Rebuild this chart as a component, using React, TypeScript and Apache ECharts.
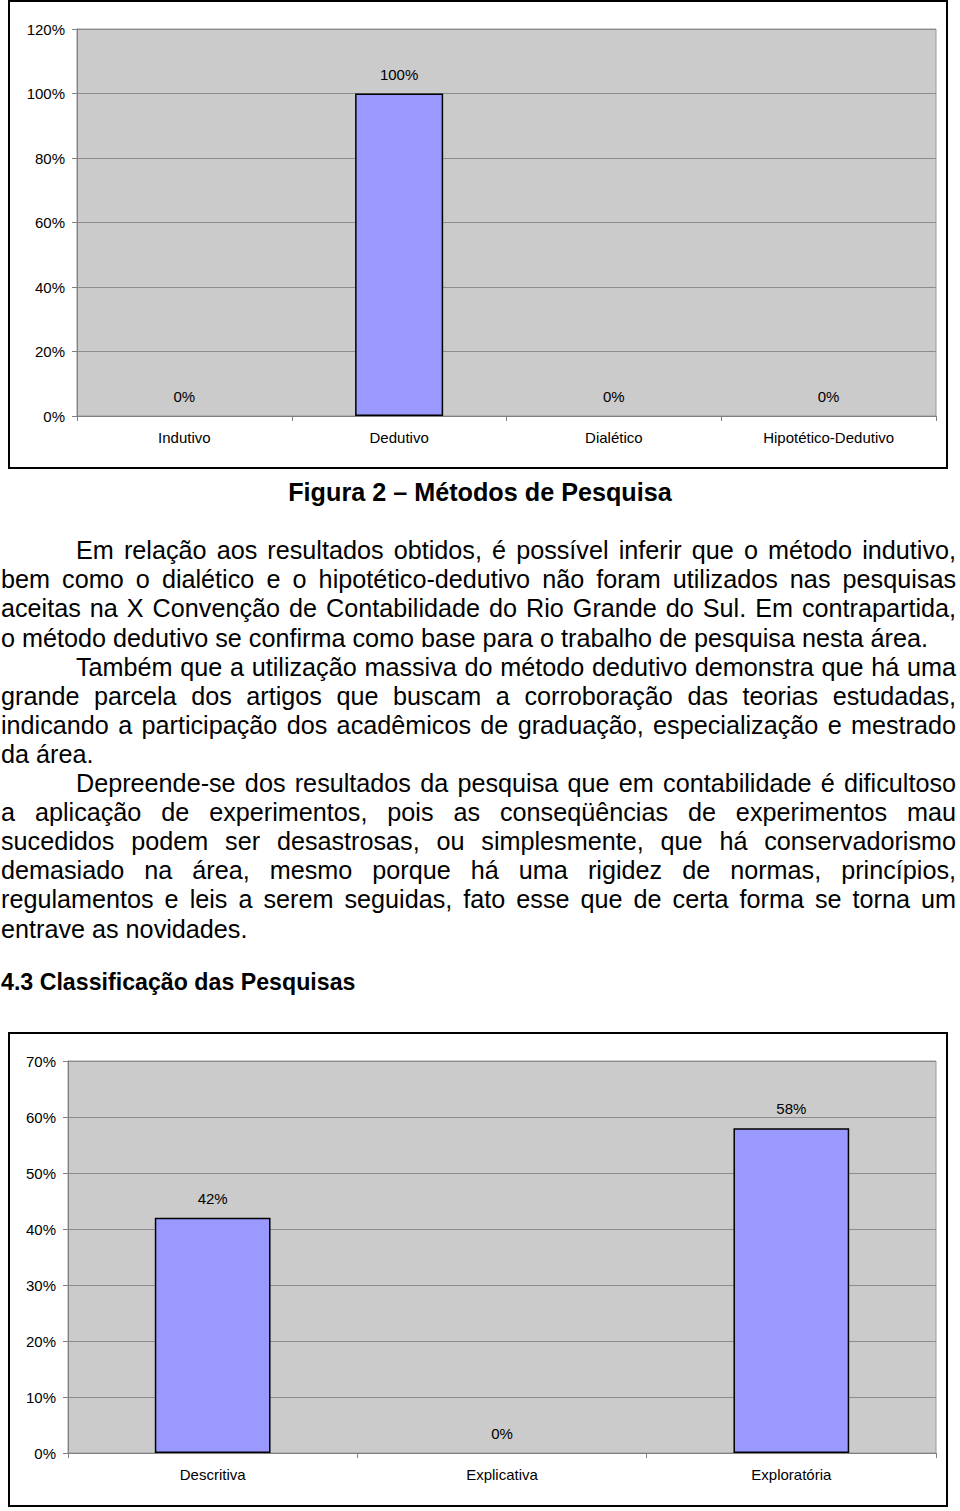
import React, { useEffect, useRef } from "react";
import * as echarts from "echarts";

// ---------- data ----------
const methodCategories = ["Indutivo", "Dedutivo", "Dialético", "Hipotético-Dedutivo"];
const methodValues = [0, 100, 0, 0];
const methodAxis = { min: 0, max: 120, interval: 20 };

const classCategories = ["Descritiva", "Explicativa", "Exploratória"];
const classValues = [42, 0, 58];
const classAxis = { min: 0, max: 70, interval: 10 };

const titleText = "Figura 2 – Métodos de Pesquisa";
const headingText = "4.3 Classificação das Pesquisas";
const paragraph1 = [
  "Em relação aos resultados obtidos, é possível inferir que o método indutivo,",
  "bem como o dialético e o hipotético-dedutivo não foram utilizados nas pesquisas",
  "aceitas na X Convenção de Contabilidade do Rio Grande do Sul. Em contrapartida,",
  "o método dedutivo se confirma como base para o trabalho de pesquisa nesta área.",
];
const paragraph2 = [
  "Também que a utilização massiva do método dedutivo demonstra que há uma",
  "grande parcela dos artigos que buscam a corroboração das teorias estudadas,",
  "indicando a participação dos acadêmicos de graduação, especialização e mestrado",
  "da área.",
];
const paragraph3 = [
  "Depreende-se dos resultados da pesquisa que em contabilidade é dificultoso",
  "a aplicação de experimentos, pois as conseqüências de experimentos mau",
  "sucedidos podem ser desastrosas, ou simplesmente, que há conservadorismo",
  "demasiado na área, mesmo porque há uma rigidez de normas, princípios,",
  "regulamentos e leis a serem seguidas, fato esse que de certa forma se torna um",
  "entrave as novidades.",
];

// ---------- style ----------
const FONT = '"Liberation Sans", Arial, Helvetica, sans-serif';
const AXIS_COLOR = "#808080";
const GRID_COLOR = "#8c8c8c";
const PLOT_BG = "#CBCBCB";
const BAR_COLOR = "#9999FF";

const FS = 25.2;
const LH = 29.1;
const FIRST_BASELINE = 559.5;
const TEXT_LEFT = 1;
const TEXT_RIGHT = 956;
const INDENT_LEFT = 76;

function baselineToTop(baseline: number, fs: number, lh: number) {
  return baseline - (lh - fs * 1.117) / 2 - fs * 0.905;
}

function barData(values: number[]) {
  return values.map((v) => (v === 0 ? { value: v, itemStyle: { borderWidth: 0 } } : { value: v }));
}

function axisX(gridIndex: number, data: string[]) {
  return {
    type: "category",
    gridIndex,
    data,
    axisLine: { show: true, lineStyle: { color: AXIS_COLOR, width: 1 } },
    axisTick: { show: true, length: 5, lineStyle: { color: AXIS_COLOR } },
    axisLabel: { color: "#000", fontSize: 15, fontFamily: FONT, margin: 14, interval: 0 },
  };
}

function axisY(gridIndex: number, cfg: { min: number; max: number; interval: number }) {
  return {
    type: "value",
    gridIndex,
    min: cfg.min,
    max: cfg.max,
    interval: cfg.interval,
    axisLine: { show: true, lineStyle: { color: AXIS_COLOR, width: 1 } },
    axisTick: { show: true, length: 5, lineStyle: { color: AXIS_COLOR } },
    axisLabel: { formatter: "{value}%", color: "#000", fontSize: 15, fontFamily: FONT, margin: 12 },
    splitLine: { show: true, lineStyle: { color: GRID_COLOR, width: 1 } },
  };
}

function barSeries(idx: number, values: number[], width: string) {
  return {
    type: "bar",
    xAxisIndex: idx,
    yAxisIndex: idx,
    data: barData(values),
    barWidth: width,
    itemStyle: { color: BAR_COLOR, borderColor: "#000", borderWidth: 1.5 },
    label: {
      show: true,
      position: "top",
      distance: 12,
      formatter: (p: any) => p.value + "%",
      color: "#000",
      fontSize: 15,
      fontFamily: FONT,
    },
  };
}

function TextLine(props: {
  text: string;
  baseline: number;
  left: number;
  right: number;
  justify: boolean;
}) {
  const { text, baseline, left, right, justify } = props;
  return (
    <div
      style={{
        position: "absolute",
        left,
        width: right - left,
        top: baselineToTop(baseline, FS, LH),
        height: LH,
        lineHeight: LH + "px",
        fontSize: FS,
        fontFamily: FONT,
        color: "#000",
        textAlign: justify ? "justify" : "left",
        textAlignLast: justify ? "justify" : "left",
        whiteSpace: "nowrap",
      } as React.CSSProperties}
    >
      {text}
    </div>
  );
}

export default function App() {
  const ref = useRef<HTMLDivElement>(null);

  useEffect(() => {
    if (!ref.current) return;
    const chart = echarts.init(ref.current, undefined, { renderer: "svg" });
    chart.setOption({
      animation: false,
      backgroundColor: "#ffffff",
      textStyle: { fontFamily: FONT },
      grid: [
        {
          left: 77,
          top: 29,
          right: 24,
          bottom: 1511 - 416,
          show: true,
          backgroundColor: PLOT_BG,
          borderColor: "#999999",
          borderWidth: 1,
        },
        {
          left: 68,
          top: 1061,
          right: 24,
          bottom: 1511 - 1453,
          show: true,
          backgroundColor: PLOT_BG,
          borderColor: "#999999",
          borderWidth: 1,
        },
      ],
      xAxis: [axisX(0, methodCategories), axisX(1, classCategories)],
      yAxis: [axisY(0, methodAxis), axisY(1, classAxis)],
      series: [barSeries(0, methodValues, "41%"), barSeries(1, classValues, "40%")],
      graphic: [
        {
          type: "rect",
          z: 100,
          shape: { x: 9, y: 1, width: 938, height: 467 },
          style: { fill: "transparent", stroke: "#000", lineWidth: 2 },
        },
        {
          type: "rect",
          z: 100,
          shape: { x: 9, y: 1033, width: 938, height: 473 },
          style: { fill: "transparent", stroke: "#000", lineWidth: 2 },
        },
      ],
    });
    return () => chart.dispose();
  }, []);

  const lines: { text: string; indent: boolean; justify: boolean }[] = [];
  [paragraph1, paragraph2, paragraph3].forEach((p) => {
    p.forEach((t, i) => lines.push({ text: t, indent: i === 0, justify: i !== p.length - 1 }));
  });

  return (
    <div
      style={{
        position: "absolute",
        left: 0,
        top: 0,
        width: 960,
        height: 1511,
        overflow: "hidden",
        background: "#fff",
      }}
    >
      <div ref={ref} style={{ position: "absolute", left: 0, top: 0, width: 960, height: 1511 }} />
      <div
        style={{
          position: "absolute",
          left: 0,
          top: 0,
          width: 960,
          height: 1511,
          pointerEvents: "none",
        }}
      >
        <div
          style={{
            position: "absolute",
            left: 0,
            width: 960,
            top: baselineToTop(501.5, FS, LH),
            lineHeight: LH + "px",
            fontSize: FS,
            fontWeight: "bold",
            fontFamily: FONT,
            textAlign: "center",
            whiteSpace: "nowrap",
          }}
        >
          {titleText}
        </div>
        {lines.map((l, i) => (
          <TextLine
            key={i}
            text={l.text}
            baseline={FIRST_BASELINE + i * LH}
            left={l.indent ? INDENT_LEFT : TEXT_LEFT}
            right={TEXT_RIGHT}
            justify={l.justify}
          />
        ))}
        <div
          style={{
            position: "absolute",
            left: TEXT_LEFT,
            top: baselineToTop(991, 23.2, LH),
            lineHeight: LH + "px",
            fontSize: 23.2,
            fontWeight: "bold",
            fontFamily: FONT,
            whiteSpace: "nowrap",
          }}
        >
          {headingText}
        </div>
      </div>
    </div>
  );
}
